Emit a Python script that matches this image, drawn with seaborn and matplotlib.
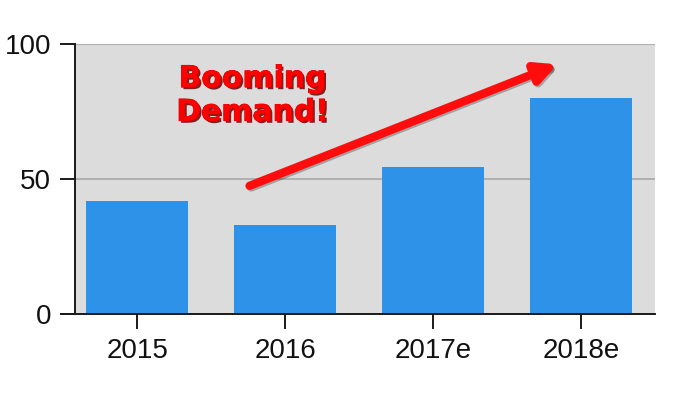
import matplotlib
matplotlib.use("Agg")
import matplotlib.pyplot as plt
import matplotlib.patheffects as pe
import pandas as pd
import seaborn as sns

years = ["2015", "2016", "2017e", "2018e"]
demand = [42, 33, 54.5, 80]
y_ticks = [0, 50, 100]

sns.set_theme(style="white")
plt.rcParams["font.family"] = ["Liberation Sans", "DejaVu Sans"]

df = pd.DataFrame({"year": years, "demand": demand})

fig = plt.figure(figsize=(7, 3.94), dpi=100)
ax = fig.add_axes([0.107, 0.203, 0.829, 0.685])
ax.set_facecolor("#dcdcdc")
sns.barplot(data=df, x="year", y="demand", color="#2e93e8", saturation=1,
            width=0.69, linewidth=0, ax=ax, zorder=2)

ax.set_xlim(-0.42, 3.5)
ax.set_ylim(0, 100)
ax.set_yticks(y_ticks)
ax.yaxis.grid(True, color="#a8a8a8", lw=1.2, zorder=1)
ax.set_axisbelow(True)
for s in ["top", "right"]:
    ax.spines[s].set_visible(False)
for s in ["left", "bottom"]:
    ax.spines[s].set_color("#1a1a1a")
    ax.spines[s].set_linewidth(1.4)
# bottom axis line runs a little past the y axis, as in the original
ax.spines["bottom"].set_bounds(-0.5, 3.5)
ax.tick_params(axis="both", which="both", length=11, width=1.4, color="#1a1a1a",
               labelcolor="#111111", labelsize=20, pad=6, bottom=True, left=True)
ax.set_xlabel("")
ax.set_ylabel("")

ax.annotate("", xy=(2.84, 92.5), xytext=(0.76, 47.5),
            arrowprops=dict(arrowstyle="-|>,head_length=1.0,head_width=0.5",
                            color="#ff0d0d", lw=6, shrinkA=0, shrinkB=0,
                            path_effects=[pe.SimpleLineShadow(offset=(1.2, -1.2), alpha=0.3),
                                          pe.Normal()]),
            zorder=5)
ax.text(0.78, 81, "Booming\nDemand!", ha="center", va="center", color="#ff0000",
        fontsize=21.5, fontweight="bold", family="DejaVu Sans", linespacing=1.2,
        path_effects=[pe.SimplePatchShadow(offset=(1.5, -1.5), shadow_rgbFace="#700000", alpha=0.85),
                      pe.withStroke(linewidth=0.6, foreground="#d00000"), pe.Normal()],
        zorder=6)

fig.savefig("out.png", dpi=100)
